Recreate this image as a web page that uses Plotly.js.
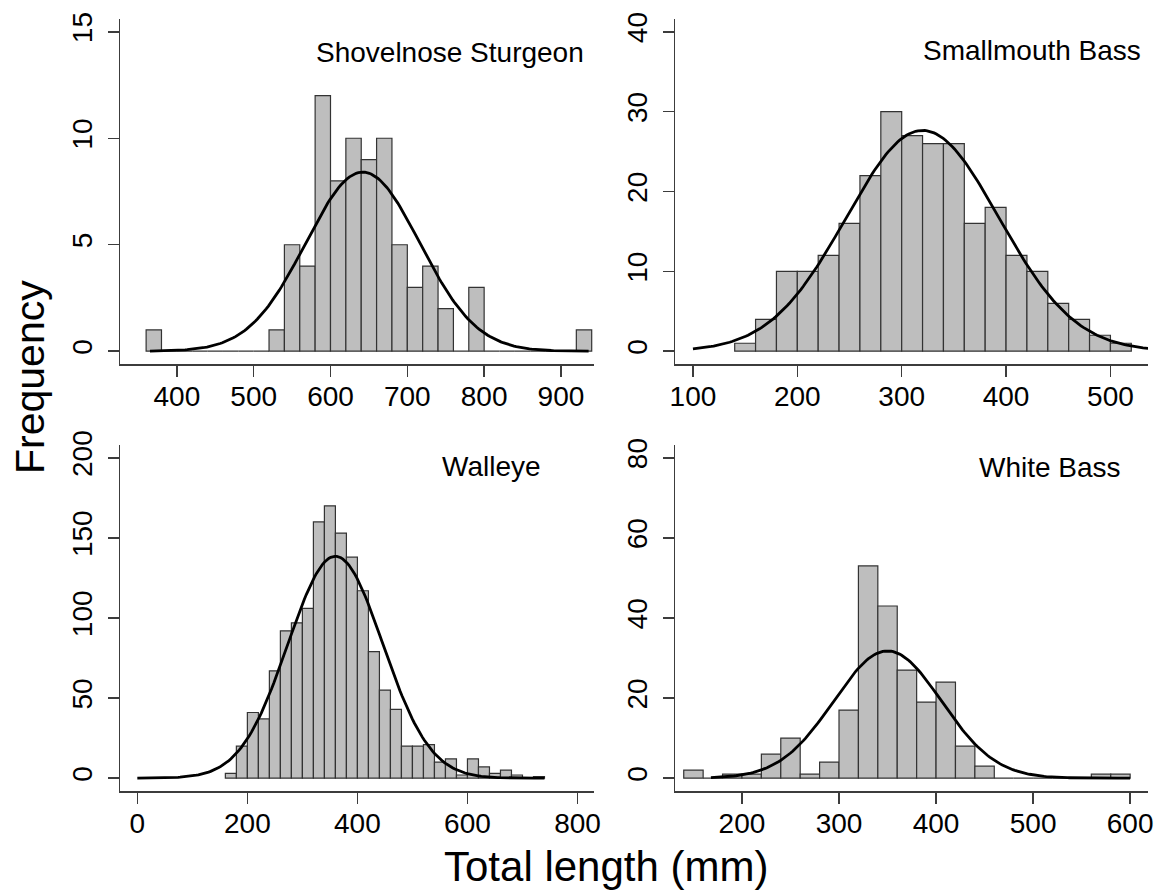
<!DOCTYPE html>
<html>
<head>
<meta charset="utf-8">
<script src="https://cdn.plot.ly/plotly-3.0.1.min.js"></script>
<style>html,body{margin:0;padding:0;background:#fff;}#chart{width:1159px;height:890px;}</style>
</head>
<body>
<div id="chart"></div>
<script>
// ---- Data ----
const panelTitles = ["Shovelnose Sturgeon", "Smallmouth Bass", "Walleye", "White Bass"];

const sturgeonBins = [360,380,400,420,440,460,480,500,520,540,560,580,600,620,640,660,680,700,720,740,760,780,800,820,840,860,880,900,920];
const sturgeonCounts = [1,0,0,0,0,0,0,0,1,5,4,12,8,10,9,10,5,3,4,2,0,3,0,0,0,0,0,0,1];

const smallmouthBins = [140,160,180,200,220,240,260,280,300,320,340,360,380,400,420,440,460,480,500];
const smallmouthCounts = [1,4,10,10,12,16,22,30,27,26,26,16,18,12,10,6,4,2,1];

const walleyeBins = [160,180,200,220,240,260,280,300,320,340,360,380,400,420,440,460,480,500,520,540,560,580,600,620,640,660,680,700,720];
const walleyeCounts = [3,20,41,37,67,92,97,106,160,170,153,138,117,79,55,43,20,20,21,10,12,2,12,7,3,5,2,0,1];

const whiteBassBins = [140,160,180,200,220,240,260,280,300,320,340,360,380,400,420,440,460,480,500,520,540,560,580];
const whiteBassCounts = [2,0,1,1,6,10,1,4,17,53,43,27,19,24,8,3,0,0,0,0,0,1,1];

const binWidth = 20;

// fitted normal curve parameters (mean, sd) and drawn span
const curveMeans = [642, 320, 360, 350];
const curveSDs = [74, 73, 86, 55.5];
const curveFrom = [365, 100, 0, 168];
const curveTo = [936, 540, 740, 600];

// axis ticks
const xTicks = [[400,500,600,700,800,900],[100,200,300,400,500],[0,200,400,600,800],[200,300,400,500,600]];
const yTicks = [[0,5,10,15],[0,10,20,30,40],[0,50,100,150,200],[0,20,40,60,80]];
const xRanges = [[326,943],[82.8,536],[-31.5,830],[131,618.4]];
const yRanges = [[-0.6,15.6],[-1.6,41.6],[-8,208],[-3.2,83.2]];

// ---- Build ----
const binsList = [sturgeonBins, smallmouthBins, walleyeBins, whiteBassBins];
const countsList = [sturgeonCounts, smallmouthCounts, walleyeCounts, whiteBassCounts];

const W = 1159, H = 890;
const px = [[120,594],[675,1148],[120,594],[675,1148]];
const py = [[19,364],[19,364],[445,791],[445,791]];

const traces = [];
const FONT = "Liberation Sans, Arial, sans-serif";
const layout = {
  width: W, height: H,
  margin: {l:0, r:0, t:0, b:0, pad:0},
  paper_bgcolor: "#ffffff", plot_bgcolor: "#ffffff",
  showlegend: false,
  bargap: 0,
  font: {family: FONT, color: "#000"},
  annotations: []
};

const axisColor = "#3c3c3c";
for (let i = 0; i < 4; i++) {
  const s = i === 0 ? "" : String(i + 1);
  const bins = binsList[i], counts = countsList[i];
  const centers = bins.map(b => b + binWidth / 2);
  traces.push({
    type: "bar", x: centers, y: counts, width: binWidth,
    xaxis: "x" + s, yaxis: "y" + s,
    marker: {color: "#bebebe", line: {color: "#333333", width: 1.2}},
    hoverinfo: "skip"
  });
  const n = counts.reduce((a, b) => a + b, 0);
  const cx = [], cy = [];
  const steps = 200;
  for (let k = 0; k <= steps; k++) {
    const x = curveFrom[i] + (curveTo[i] - curveFrom[i]) * k / steps;
    const z = (x - curveMeans[i]) / curveSDs[i];
    cx.push(x);
    cy.push(n * binWidth * Math.exp(-0.5 * z * z) / (curveSDs[i] * Math.sqrt(2 * Math.PI)));
  }
  traces.push({
    type: "scatter", mode: "lines", x: cx, y: cy,
    xaxis: "x" + s, yaxis: "y" + s,
    line: {color: "#000", width: 2.8}, hoverinfo: "skip"
  });
  const common = {
    showline: true, linecolor: axisColor, linewidth: 1.5,
    ticks: "outside", ticklen: 11, tickwidth: 1.5, tickcolor: axisColor,
    showgrid: false, zeroline: false, automargin: false,
    tickfont: {size: 28, family: FONT, color: "#000"},
    fixedrange: true
  };
  layout["xaxis" + s] = Object.assign({}, common, {
    domain: [px[i][0] / W, px[i][1] / W],
    range: xRanges[i], tickmode: "array", tickvals: xTicks[i],
    anchor: "y" + s, ticklabelstandoff: -4
  });
  layout["yaxis" + s] = Object.assign({}, common, {
    domain: [1 - py[i][1] / H, 1 - py[i][0] / H],
    range: yRanges[i], tickmode: "array", tickvals: yTicks[i],
    tickangle: -90, anchor: "x" + s, ticklabelstandoff: 4
  });
}

// panel titles
const titlePos = [[586, 52], [1143, 50], [543, 466], [1123, 467]];
for (let i = 0; i < 4; i++) {
  layout.annotations.push({
    text: panelTitles[i], xref: "paper", yref: "paper",
    x: titlePos[i][0] / W, y: 1 - titlePos[i][1] / H,
    xanchor: "right", yanchor: "middle", showarrow: false,
    font: {size: 28, color: "#000", family: FONT}
  });
}
// shared axis titles
layout.annotations.push({
  text: "Frequency", xref: "paper", yref: "paper",
  x: 30 / W, y: 1 - 377 / H, textangle: -90,
  xanchor: "center", yanchor: "middle", showarrow: false,
  font: {size: 41, color: "#000", family: FONT}
});
layout.annotations.push({
  text: "Total length (mm)", xref: "paper", yref: "paper",
  x: 606 / W, y: 1 - 866 / H,
  xanchor: "center", yanchor: "middle", showarrow: false,
  font: {size: 42, color: "#000", family: FONT}
});

Plotly.newPlot("chart", traces, layout, {displayModeBar: false, staticPlot: true});
</script>
</body>
</html>
